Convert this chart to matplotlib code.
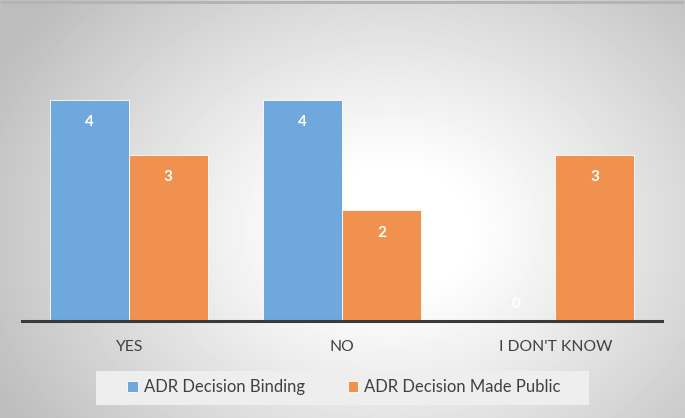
import numpy as np
import matplotlib.pyplot as plt
from matplotlib.patches import Rectangle

# data
categories = ["YES", "NO", "I DON'T KNOW"]
binding = [4, 4, 0]
made_public = [3, 2, 3]
series_names = ["ADR Decision Binding", "ADR Decision Made Public"]

blue = "#6fa8dc"
orange = "#f0914f"

plt.rcParams['font.family'] = ['Lato', 'DejaVu Sans']

fig = plt.figure(figsize=(6.85, 4.18), dpi=100)

# radial gradient background
bg = fig.add_axes([0, 0, 1, 1], zorder=-10)
yy, xx = np.mgrid[0:418, 0:685]
r = np.sqrt(((xx - 390) / 420.0) ** 2 + ((yy - 230) / 330.0) ** 2)
shade = 1.0 - 0.24 * np.clip(r - 0.18, 0, None) ** 1.1 / 0.82 ** 1.1
shade = np.clip(shade, 0.74, 1.0)
bg.imshow(shade, cmap="gray", vmin=0, vmax=1, aspect="auto", interpolation="bilinear")
bg.add_patch(Rectangle((0, 0), 684, 3, color="#b4b4b4", lw=0))
# legend backdrop
bg.add_patch(Rectangle((96, 370), 493, 34, color="#eeeeee", lw=0))
bg.set_xlim(-0.5, 684.5)
bg.set_ylim(417.5, -0.5)
bg.set_axis_off()

ax = fig.add_axes([22 / 685, (418 - 321) / 418, 640 / 685, 276.5 / 418])
ax.patch.set_alpha(0)

x = np.arange(len(categories))
w = 0.37
b1 = ax.bar(x - w / 2, binding, w, color=blue, edgecolor="white", linewidth=0.6, label=series_names[0])
b2 = ax.bar(x + w / 2, made_public, w, color=orange, edgecolor="white", linewidth=0.6, label=series_names[1])

for bars in (b1, b2):
    for rect in bars:
        h = rect.get_height()
        ypos = h - 0.4 if h > 0 else 0.3
        ax.text(rect.get_x() + rect.get_width() / 2, ypos, str(int(h)),
                ha="center", va="center", color="white", fontsize=11, fontweight="bold")

ax.set_xlim(-0.5, 2.5)
ax.set_ylim(0, 5)
ax.set_yticks([])
ax.set_xticks(x)
ax.set_xticklabels(categories, fontsize=11.3, color="#404040")
ax.tick_params(axis="x", length=0, pad=14)
for s in ["top", "right", "left"]:
    ax.spines[s].set_visible(False)
ax.spines["bottom"].set_color("#3a3a3a")
ax.spines["bottom"].set_linewidth(2.2)

leg = fig.legend(loc="center", bbox_to_anchor=(344 / 685, 1 - 387 / 418), ncol=2,
                 frameon=False, fontsize=12, handlelength=0.62, handleheight=0.62,
                 handletextpad=0.35, columnspacing=2.6)
for t in leg.get_texts():
    t.set_color("#404040")

fig.savefig("out.png", dpi=100)
